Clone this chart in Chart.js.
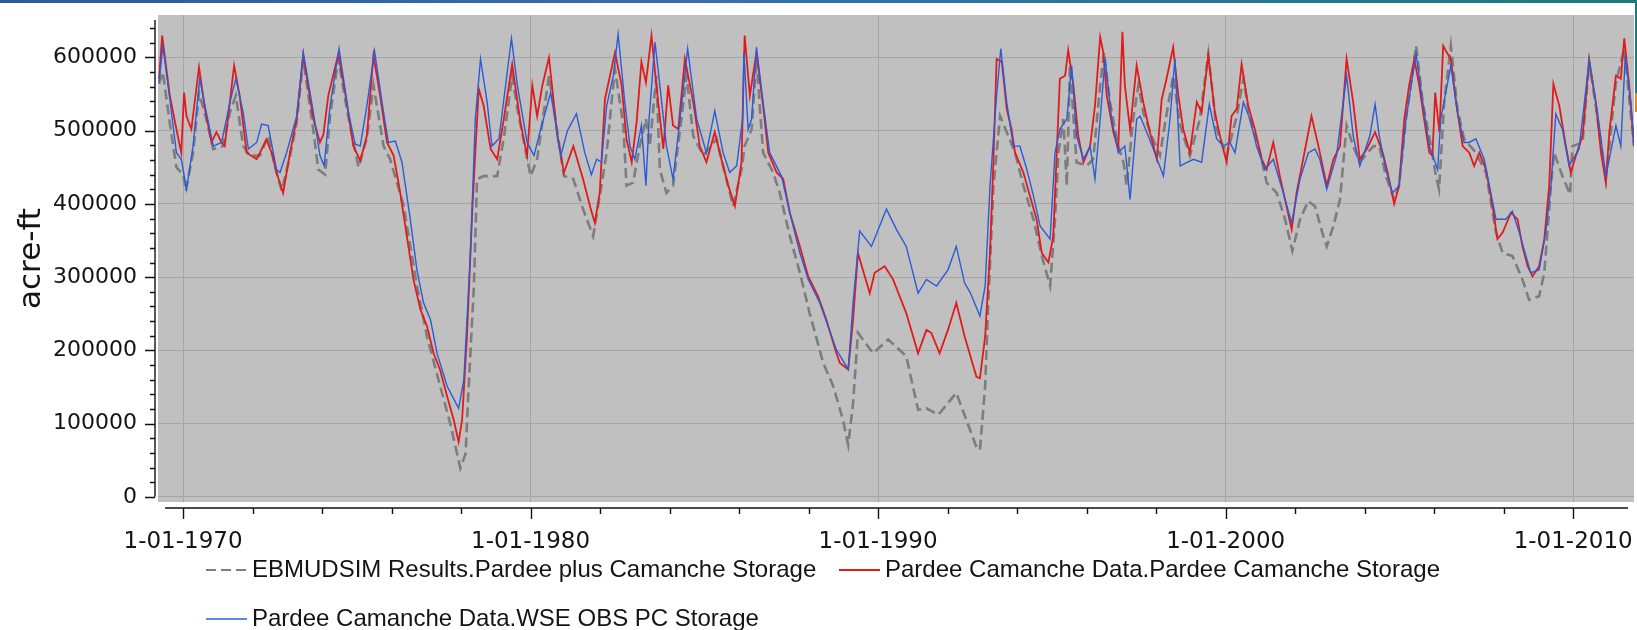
<!DOCTYPE html>
<html>
<head>
<meta charset="utf-8">
<title>Pardee + Camanche storage</title>
<script src="https://cdn.jsdelivr.net/npm/chart.js@4.4.0/dist/chart.umd.min.js"></script>
<style>
  html, body { margin: 0; padding: 0; background: #fff; }
  #wrap { position: relative; width: 1637px; height: 630px; overflow: hidden; }
  #topband { position: absolute; left: 0; top: 0; width: 1637px; height: 3px;
             background: linear-gradient(90deg, #2b5b9c, #3670ad 45%, #1c7a80); }
  #edge  { position: absolute; right: 0; top: 3px;  width: 2px; height: 90px; background: #1c7a80; }
  #edge2 { position: absolute; right: 0; top: 93px; width: 2px; height: 19px; background: #e08a12; }
  canvas { position: absolute; left: 0; top: 0; }
</style>
</head>
<body>
<div id="wrap">
  <canvas id="storage" width="1637" height="630"></canvas>
  <div id="topband"></div>
  <div id="edge"></div>
  <div id="edge2"></div>
</div>
<script>
// ── Series: [decimal year, storage in thousand acre-ft] ──────────────────────
const seriesNames = [
  'EBMUDSIM Results.Pardee plus Camanche Storage',
  'Pardee Camanche Data.Pardee Camanche Storage',
  'Pardee Camanche Data.WSE OBS PC Storage',
];

// simulated (dashed gray)
const simStorage = [
  [1969.31,564],[1969.42,580],[1969.62,510],[1969.81,450],[1970.00,440],[1970.08,418],[1970.29,470],[1970.46,552],
  [1970.67,516],[1970.87,475],[1971.15,479],[1971.35,525],[1971.52,548],[1971.73,479],[1971.92,466],[1972.21,466],
  [1972.45,493],[1972.69,443],[1972.84,418],[1973.08,466],[1973.27,511],[1973.46,598],[1973.75,500],[1973.89,447],
  [1974.09,440],[1974.23,520],[1974.47,598],[1974.71,530],[1975.05,450],[1975.29,490],[1975.48,562],[1975.77,479],
  [1975.96,461],[1976.35,397],[1976.73,288],[1977.02,219],[1977.40,151],[1977.69,100],[1977.98,39],[1978.13,59],
  [1978.22,151],[1978.37,288],[1978.46,434],[1978.65,438],[1979.04,438],[1979.23,490],[1979.47,575],[1979.62,530],
  [1980.00,438],[1980.19,461],[1980.53,575],[1980.96,438],[1981.23,434],[1981.51,393],[1981.80,356],[1982.04,425],
  [1982.19,470],[1982.33,539],[1982.43,584],[1982.67,507],[1982.76,425],[1982.95,429],[1983.14,479],[1983.32,516],
  [1983.43,479],[1983.62,575],[1983.72,447],[1983.91,415],[1984.10,425],[1984.34,516],[1984.49,575],[1984.68,493],
  [1984.97,466],[1985.35,489],[1985.54,452],[1985.83,397],[1986.07,447],[1986.16,479],[1986.36,502],[1986.50,598],
  [1986.69,470],[1986.98,443],[1987.17,415],[1987.46,356],[1987.75,306],[1988.03,251],[1988.42,183],[1988.71,151],
  [1988.99,105],[1989.14,71],[1989.28,128],[1989.42,224],[1989.86,196],[1990.29,215],[1990.81,192],[1991.15,119],
  [1991.39,121],[1991.73,112],[1992.01,128],[1992.25,142],[1992.54,105],[1992.83,68],[1992.93,64],[1993.08,151],
  [1993.17,265],[1993.32,425],[1993.51,520],[1993.70,498],[1993.94,470],[1994.18,425],[1994.47,379],[1994.71,329],
  [1994.95,288],[1995.09,379],[1995.19,470],[1995.33,516],[1995.43,425],[1995.52,589],[1995.71,457],[1996.00,452],
  [1996.19,461],[1996.39,562],[1996.50,607],[1996.67,539],[1996.91,479],[1997.06,457],[1997.15,425],[1997.34,516],
  [1997.49,562],[1997.63,525],[1997.87,493],[1998.11,466],[1998.26,511],[1998.49,575],[1998.69,507],[1998.97,466],
  [1999.26,516],[1999.50,605],[1999.74,502],[2000.03,466],[2000.32,520],[2000.51,571],[2000.70,516],[2000.99,470],
  [2001.18,429],[2001.47,415],[2001.71,379],[2001.92,336],[2002.14,379],[2002.38,404],[2002.57,397],[2002.81,356],
  [2002.91,342],[2003.10,370],[2003.29,406],[2003.48,507],[2003.67,479],[2003.86,457],[2004.25,479],[2004.42,479],
  [2004.61,438],[2004.85,406],[2004.99,425],[2005.19,516],[2005.48,616],[2005.67,539],[2005.91,479],[2006.05,438],
  [2006.14,420],[2006.29,539],[2006.48,616],[2006.67,530],[2006.86,489],[2007.20,470],[2007.49,443],[2007.78,361],
  [2007.97,333],[2008.25,329],[2008.54,297],[2008.73,269],[2009.02,274],[2009.17,306],[2009.36,425],[2009.45,470],
  [2009.69,438],[2009.91,413],[2009.98,479],[2010.27,484],[2010.46,594],[2010.65,534],[2010.94,434],[2011.23,566],
  [2011.47,612],[2011.75,479],
];

// recorded Pardee + Camanche storage (red)
const pcStorage = [
  [1969.31,571],[1969.40,630],[1969.62,548],[1969.81,502],[1969.95,470],[1970.03,552],[1970.10,520],[1970.24,502],
  [1970.46,587],[1970.63,530],[1970.82,484],[1970.96,498],[1971.11,484],[1971.20,479],[1971.47,589],[1971.63,548],
  [1971.83,470],[1972.12,461],[1972.40,488],[1972.55,470],[1972.69,443],[1972.88,415],[1973.08,470],[1973.27,516],
  [1973.46,603],[1973.75,516],[1973.94,484],[1974.04,495],[1974.18,548],[1974.47,605],[1974.71,539],[1974.90,479],
  [1975.10,459],[1975.29,493],[1975.48,603],[1975.67,548],[1975.87,484],[1976.06,466],[1976.25,415],[1976.44,356],
  [1976.63,297],[1976.83,256],[1977.02,233],[1977.21,196],[1977.40,173],[1977.60,137],[1977.79,105],[1977.93,75],
  [1978.03,105],[1978.17,219],[1978.32,388],[1978.41,470],[1978.51,557],[1978.65,534],[1978.85,475],[1979.04,461],
  [1979.23,516],[1979.47,591],[1979.71,511],[1979.90,466],[1980.05,562],[1980.19,520],[1980.34,562],[1980.53,600],
  [1980.77,493],[1980.96,443],[1981.23,479],[1981.51,434],[1981.71,397],[1981.85,374],[1981.99,415],[1982.14,543],
  [1982.43,607],[1982.62,562],[1982.76,489],[1982.91,457],[1983.05,511],[1983.19,594],[1983.32,566],[1983.48,630],
  [1983.62,562],[1983.82,475],[1983.96,562],[1984.10,507],[1984.25,502],[1984.44,598],[1984.68,539],[1984.87,479],
  [1985.06,457],[1985.30,498],[1985.49,461],[1985.69,425],[1985.88,397],[1986.07,457],[1986.16,630],[1986.31,548],
  [1986.50,607],[1986.69,534],[1986.84,470],[1987.08,443],[1987.27,434],[1987.46,388],[1987.75,342],[1987.99,301],
  [1988.27,274],[1988.51,242],[1988.80,196],[1988.90,183],[1989.14,174],[1989.28,242],[1989.42,333],[1989.76,278],
  [1989.90,306],[1990.19,315],[1990.43,297],[1990.81,251],[1991.15,196],[1991.39,228],[1991.53,224],[1991.77,196],
  [1992.01,228],[1992.25,265],[1992.49,219],[1992.83,164],[1992.93,162],[1993.08,219],[1993.22,333],[1993.32,461],
  [1993.41,598],[1993.56,594],[1993.70,530],[1993.84,502],[1993.94,470],[1994.18,443],[1994.37,411],[1994.56,379],
  [1994.71,333],[1994.90,320],[1995.04,356],[1995.14,470],[1995.23,571],[1995.38,575],[1995.47,610],[1995.62,562],
  [1995.76,493],[1995.91,457],[1996.10,479],[1996.24,534],[1996.39,628],[1996.48,607],[1996.58,548],[1996.77,498],
  [1996.91,475],[1997.03,635],[1997.10,562],[1997.25,502],[1997.44,589],[1997.63,539],[1997.82,498],[1998.02,461],
  [1998.16,543],[1998.30,571],[1998.49,614],[1998.64,548],[1998.78,502],[1998.97,470],[1999.17,539],[1999.31,525],
  [1999.50,603],[1999.69,525],[1999.88,484],[2000.03,457],[2000.17,520],[2000.32,530],[2000.46,591],[2000.65,534],
  [2000.84,502],[2001.04,461],[2001.18,447],[2001.37,484],[2001.56,438],[2001.75,397],[2001.90,365],[2002.04,415],
  [2002.23,461],[2002.47,520],[2002.67,479],[2002.91,425],[2003.10,461],[2003.29,479],[2003.48,598],[2003.67,539],
  [2003.86,461],[2004.06,475],[2004.30,498],[2004.52,470],[2004.66,443],[2004.85,400],[2004.99,425],[2005.14,516],
  [2005.28,562],[2005.43,598],[2005.57,562],[2005.71,516],[2005.86,470],[2005.95,466],[2006.03,552],[2006.15,498],
  [2006.26,616],[2006.36,607],[2006.48,598],[2006.63,539],[2006.82,479],[2007.01,470],[2007.15,452],[2007.30,470],
  [2007.49,447],[2007.68,397],[2007.82,352],[2007.97,361],[2008.21,388],[2008.40,379],[2008.54,342],[2008.69,315],
  [2008.83,301],[2009.02,315],[2009.17,352],[2009.31,425],[2009.43,564],[2009.60,534],[2009.79,479],[2009.93,443],
  [2010.08,466],[2010.27,493],[2010.46,596],[2010.65,539],[2010.80,470],[2010.94,429],[2011.04,498],[2011.23,575],
  [2011.37,571],[2011.47,626],[2011.61,562],[2011.75,479],
];

// storage from observed water-surface elevation (blue)
const wseStorage = [
  [1969.31,566],[1969.42,616],[1969.62,543],[1969.81,470],[1969.95,461],[1970.10,420],[1970.29,479],[1970.48,571],
  [1970.67,525],[1970.87,479],[1971.11,484],[1971.35,539],[1971.52,571],[1971.73,525],[1971.88,475],[1972.12,484],
  [1972.26,509],[1972.45,507],[1972.69,447],[1972.79,443],[1972.98,470],[1973.27,520],[1973.46,607],[1973.75,525],
  [1973.94,466],[1974.06,452],[1974.23,534],[1974.49,612],[1974.76,525],[1974.95,482],[1975.10,479],[1975.29,534],
  [1975.51,609],[1975.77,525],[1975.91,484],[1976.11,486],[1976.30,457],[1976.54,379],[1976.73,310],[1976.92,265],
  [1977.12,242],[1977.31,196],[1977.60,151],[1977.93,121],[1978.08,160],[1978.27,333],[1978.41,516],[1978.56,598],
  [1978.75,539],[1978.89,479],[1979.09,489],[1979.45,626],[1979.62,562],[1979.90,484],[1980.10,466],[1980.29,502],
  [1980.58,552],[1980.87,466],[1981.06,500],[1981.32,523],[1981.56,470],[1981.75,440],[1981.90,461],[1982.04,457],
  [1982.19,534],[1982.38,575],[1982.52,632],[1982.71,539],[1982.86,479],[1983.00,461],[1983.19,507],[1983.32,425],
  [1983.41,516],[1983.58,621],[1983.72,562],[1983.91,479],[1984.10,434],[1984.30,516],[1984.52,612],[1984.78,516],
  [1985.06,470],[1985.30,527],[1985.54,470],[1985.73,443],[1985.93,452],[1986.10,516],[1986.14,607],[1986.26,502],
  [1986.36,516],[1986.50,614],[1986.69,539],[1986.88,470],[1987.22,438],[1987.46,388],[1987.75,333],[1987.99,297],
  [1988.32,265],[1988.80,201],[1989.14,174],[1989.28,265],[1989.47,363],[1989.81,342],[1990.24,393],[1990.53,365],
  [1990.81,342],[1991.15,278],[1991.39,297],[1991.68,288],[1992.01,310],[1992.25,342],[1992.49,292],[1992.65,279],
  [1992.93,247],[1993.08,288],[1993.22,425],[1993.41,548],[1993.53,612],[1993.70,539],[1993.89,479],[1994.08,479],
  [1994.28,447],[1994.47,411],[1994.66,370],[1994.95,352],[1995.09,470],[1995.23,502],[1995.43,516],[1995.57,589],
  [1995.71,493],[1995.91,461],[1996.10,479],[1996.24,434],[1996.39,516],[1996.53,598],[1996.72,516],[1996.91,470],
  [1997.10,479],[1997.25,406],[1997.44,516],[1997.54,520],[1997.73,498],[1997.92,475],[1998.21,438],[1998.40,516],
  [1998.54,598],[1998.69,452],[1999.07,461],[1999.31,457],[1999.53,536],[1999.74,489],[1999.93,479],[2000.12,484],
  [2000.27,470],[2000.51,539],[2000.70,516],[2000.89,479],[2001.13,447],[2001.37,461],[2001.66,415],[2001.90,374],
  [2002.14,434],[2002.38,470],[2002.57,475],[2002.71,461],[2002.91,420],[2003.19,466],[2003.48,575],[2003.67,493],
  [2003.86,452],[2004.15,493],[2004.30,536],[2004.42,493],[2004.61,447],[2004.80,415],[2004.99,425],[2005.19,516],
  [2005.48,605],[2005.67,539],[2005.86,479],[2006.10,447],[2006.19,516],[2006.48,589],[2006.67,525],[2006.86,484],
  [2007.01,484],[2007.20,489],[2007.44,461],[2007.63,415],[2007.78,379],[2008.06,379],[2008.25,390],[2008.45,361],
  [2008.64,329],[2008.78,306],[2009.02,310],[2009.21,361],[2009.36,425],[2009.50,523],[2009.69,502],[2009.88,452],
  [2010.17,475],[2010.46,596],[2010.70,525],[2010.94,438],[2011.23,507],[2011.37,479],[2011.50,603],[2011.66,539],
  [2011.75,479],
];

// ── Axis ticks ───────────────────────────────────────────────────────────────
const xTickYears   = [1970,1972,1974,1976,1978,1980,1982,1984,1986,1988,1990,1992,1994,1996,1998,2000,2002,2004,2006,2008,2010];
const xLabelYears  = [1970, 1980, 1990, 2000, 2010];
const yTickValues  = [0,20000,40000,60000,80000,100000,120000,140000,160000,180000,200000,220000,240000,260000,280000,
                      300000,320000,340000,360000,380000,400000,420000,440000,460000,480000,500000,520000,540000,560000,
                      580000,600000,620000,640000];
const yLabelValues = [0, 100000, 200000, 300000, 400000, 500000, 600000];

const X_MIN = 1969.28, X_MAX = 2011.75;
const Y_MIN = -7000,   Y_MAX = 658000;

const GRID_COLOR = '#a5a5a5';
const TEXT_COLOR = '#141414';

const toPoints = rows => rows.map(([t, v]) => ({ x: t, y: v * 1000 }));

// keep the plot box fixed: no extra room for edge labels
const noEdgePadding = s => { s.paddingTop = 0; s.paddingBottom = 0; s.paddingLeft = 0; s.paddingRight = 0; };

// ── Plugins ──────────────────────────────────────────────────────────────────
const plotBackground = {
  id: 'plotBackground',
  beforeDraw(chart) {
    const { ctx, chartArea: a } = chart;
    ctx.save();
    ctx.fillStyle = '#c0c0c0';
    ctx.fillRect(a.left, a.top, a.right - a.left, a.bottom - a.top);
    ctx.restore();
  }
};

// detached axis lines with major/minor tick marks
const axisLines = {
  id: 'axisLines',
  afterDraw(chart) {
    const { ctx, chartArea: a, scales: { x, y } } = chart;
    ctx.save();
    ctx.strokeStyle = '#111';
    ctx.lineWidth = 1.4;

    const ax = a.left - 3;
    ctx.beginPath();
    ctx.moveTo(ax, a.top + 5);
    ctx.lineTo(ax, y.getPixelForValue(0));
    y.ticks.forEach(t => {
      const py = Math.round(y.getPixelForValue(t.value)) + 0.5;
      const len = yLabelValues.includes(t.value) ? 10 : 5;
      ctx.moveTo(ax - len, py);
      ctx.lineTo(ax, py);
    });
    ctx.stroke();

    const ay = a.bottom + 6;
    ctx.beginPath();
    ctx.moveTo(a.left + 7, ay);
    ctx.lineTo(a.right - 6, ay);
    x.ticks.forEach(t => {
      const px = Math.round(x.getPixelForValue(t.value)) + 0.5;
      const len = xLabelYears.includes(t.value) ? 11 : 6;
      ctx.moveTo(px, ay);
      ctx.lineTo(px, ay + len);
    });
    ctx.stroke();
    ctx.restore();
  }
};

// legend rows under the axis, items left-aligned
const legendSlots = [[206, 570], [839, 570], [206, 619]];
const legendRows = {
  id: 'legendRows',
  afterDraw(chart) {
    const { ctx } = chart;
    ctx.save();
    ctx.font = '24px "Liberation Sans", Arial, sans-serif';
    ctx.textBaseline = 'middle';
    chart.data.datasets.forEach((ds, i) => {
      const [lx, ly] = legendSlots[i];
      ctx.strokeStyle = ds.borderColor;
      ctx.lineWidth = Math.min(ds.borderWidth, 2);
      ctx.setLineDash(ds.borderDash || []);
      ctx.beginPath();
      ctx.moveTo(lx, ly);
      ctx.lineTo(lx + 41, ly);
      ctx.stroke();
      ctx.setLineDash([]);
      ctx.fillStyle = TEXT_COLOR;
      ctx.fillText(ds.label, lx + 46, ly);
    });
    ctx.restore();
  }
};

// ── Chart ────────────────────────────────────────────────────────────────────
new Chart(document.getElementById('storage'), {
  type: 'line',
  data: {
    datasets: [
      { label: seriesNames[0], data: toPoints(simStorage), borderColor: '#7d7d7d',
        borderWidth: 2.6, borderDash: [10, 5], order: 3 },
      { label: seriesNames[1], data: toPoints(pcStorage),  borderColor: '#e31a1c',
        borderWidth: 1.8, order: 2 },
      { label: seriesNames[2], data: toPoints(wseStorage), borderColor: '#2b5bd8',
        borderWidth: 1.4, order: 1 },
    ]
  },
  options: {
    responsive: false,
    animation: false,
    layout: { padding: { left: 0, right: 3, top: 15, bottom: 0 } },
    elements: { point: { radius: 0 }, line: { tension: 0, fill: false } },
    plugins: { legend: { display: false }, tooltip: { enabled: false } },
    scales: {
      x: {
        type: 'linear', min: X_MIN, max: X_MAX,
        afterFit: s => { s.height = 128; noEdgePadding(s); },
        afterBuildTicks: s => { s.ticks = xTickYears.map(v => ({ value: v })); },
        border: { display: false },
        grid: {
          drawTicks: false, lineWidth: 1,
          color: c => (c.tick && xLabelYears.includes(c.tick.value)) ? GRID_COLOR : 'rgba(0,0,0,0)'
        },
        ticks: {
          autoSkip: false, maxRotation: 0, padding: 26, color: TEXT_COLOR,
          font: { family: '"DejaVu Sans", Verdana, sans-serif', size: 23 },
          callback: v => xLabelYears.includes(v) ? '1-01-' + v : ''
        }
      },
      y: {
        type: 'linear', min: Y_MIN, max: Y_MAX,
        afterFit: s => { s.width = 158; noEdgePadding(s); },
        afterBuildTicks: s => { s.ticks = yTickValues.map(v => ({ value: v })); },
        border: { display: false },
        grid: {
          drawTicks: false, lineWidth: 1,
          color: c => (c.tick && yLabelValues.includes(c.tick.value)) ? GRID_COLOR : 'rgba(0,0,0,0)'
        },
        ticks: {
          autoSkip: false, padding: 21, color: TEXT_COLOR,
          font: { family: '"DejaVu Sans", Verdana, sans-serif', size: 22 },
          callback: v => yLabelValues.includes(v) ? String(v) : ''
        },
        title: {
          display: true, text: 'acre-ft', color: TEXT_COLOR,
          font: { family: '"DejaVu Sans", Verdana, sans-serif', size: 31 },
          padding: { top: 13, bottom: 0 }
        }
      }
    }
  },
  plugins: [plotBackground, axisLines, legendRows]
});
</script>
</body>
</html>
